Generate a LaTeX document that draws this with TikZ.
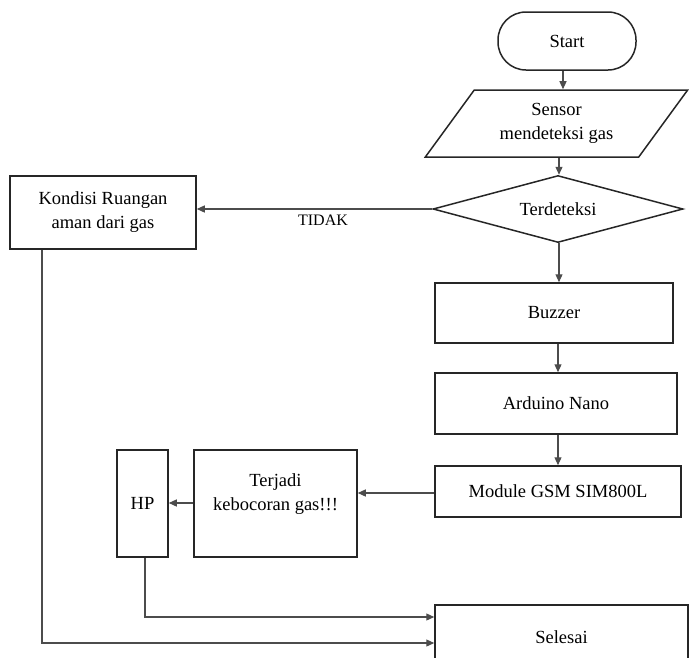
\documentclass[tikz,border=0pt]{standalone}
\usepackage{fontspec}
\setmainfont{Liberation Serif}
\usetikzlibrary{shapes.geometric,arrows.meta}
\begin{document}
\begin{tikzpicture}[x=1pt,y=-1pt,
  box/.style={draw=black!85,line width=1.5pt,rectangle,inner sep=0pt,font=\fontsize{18.5}{24}\selectfont,align=center},
  txt/.style={inner sep=0pt,font=\fontsize{18.5}{24}\selectfont,align=center},
  arr/.style={draw=black!70,line width=1.2pt,-{Triangle[length=8pt,width=7pt]}},
  lbl/.style={inner sep=0pt,font=\fontsize{16}{18}\selectfont}]
\useasboundingbox (0,0) rectangle (689,657);
\begin{scope}
\clip (0,0) rectangle (689,657);
\node[box,rounded corners=28pt,minimum width=138pt,minimum height=58pt] (start) at (567,41) {Start};
\node[box,trapezium,trapezium left angle=50,trapezium right angle=130,trapezium stretches=true,minimum width=263pt,minimum height=67pt] (sensor) at (556.5,123.5) {Sensor\\mendeteksi gas};
\node[box,diamond,aspect=3.73,minimum width=250pt,minimum height=67pt] (dec) at (558,209) {Terdeteksi};
\node[box,minimum width=238pt,minimum height=60pt] (buzzer) at (554,313) {Buzzer};
\node[box,minimum width=242pt,minimum height=61pt] (arduino) at (556,403.5) {Arduino Nano};
\node[box,minimum width=246pt,minimum height=51pt] (gsm) at (558,491.5) {Module GSM SIM800L};
\node[box,minimum width=163pt,minimum height=107pt] (terjadi) at (275.5,503.5) {};
\node[txt] (terjaditxt) at (275.5,494) {Terjadi\\kebocoran gas!!!};
\node[box,minimum width=51pt,minimum height=107pt] (hp) at (142.5,503.5) {HP};
\node[box,minimum width=186pt,minimum height=73pt] (kondisi) at (103,212.5) {Kondisi Ruangan\\aman dari gas};
\node[box,minimum width=253pt,minimum height=65pt] (selesai) at (561.5,637.5) {Selesai};

\draw[arr] (start.south -| 563,0) -- (sensor.north -| 563,0);
\draw[arr] (sensor.south -| 559,0) -- (dec.north -| 559,0);
\draw[arr] (dec.south -| 559,0) -- (buzzer.north -| 559,0);
\draw[arr] (buzzer.south -| 558,0) -- (arduino.north -| 558,0);
\draw[arr] (arduino.south -| 558,0) -- (gsm.north -| 558,0);
\draw[arr] (dec.west) -- (kondisi.east |- dec.west);
\node[lbl] (tidak) at (323,220) {TIDAK};
\draw[arr] (gsm.west |- 0,493) -- (terjadi.east |- 0,493);
\draw[arr] (terjadi.west |- 0,503) -- (hp.east |- 0,503);
\draw[arr] (hp.south -| 145,0) |- (selesai.west |- 0,617);
\draw[arr] (kondisi.south -| 42,0) |- (selesai.west |- 0,643);
\end{scope}
\end{tikzpicture}
\end{document}
